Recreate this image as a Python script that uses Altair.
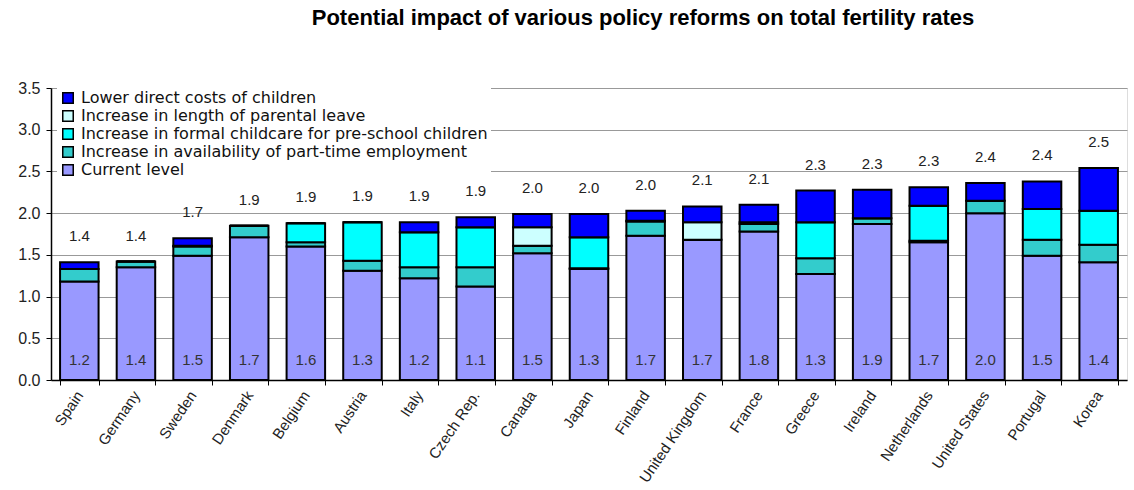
import altair as alt
import pandas as pd

countries = ["Spain", "Germany", "Sweden", "Denmark", "Belgium", "Austria", "Italy",
             "Czech Rep.", "Canada", "Japan", "Finland", "United Kingdom", "France",
             "Greece", "Ireland", "Netherlands", "United States", "Portugal", "Korea"]
current = [1.18, 1.35, 1.49, 1.71, 1.60, 1.31, 1.22, 1.12, 1.52, 1.33, 1.73, 1.68, 1.78,
           1.27, 1.87, 1.65, 2.00, 1.49, 1.41]
parttime = [0.15, 0.07, 0.11, 0.14, 0.05, 0.12, 0.13, 0.23, 0.09, 0.01, 0.17, 0.00, 0.09,
            0.19, 0.07, 0.02, 0.15, 0.19, 0.21]
childcare = [0.00, 0.00, 0.01, 0.00, 0.23, 0.46, 0.42, 0.48, 0.00, 0.37, 0.01, 0.00, 0.02,
             0.43, 0.00, 0.42, 0.00, 0.37, 0.41]
leave = [0.00, 0.00, 0.00, 0.00, 0.00, 0.00, 0.00, 0.00, 0.22, 0.00, 0.00, 0.21, 0.00,
         0.00, 0.00, 0.00, 0.00, 0.00, 0.00]
costs = [0.08, 0.00, 0.09, 0.00, 0.00, 0.00, 0.12, 0.12, 0.16, 0.28, 0.12, 0.19, 0.21,
         0.38, 0.34, 0.22, 0.21, 0.33, 0.51]
top_labels = ["1.4", "1.4", "1.7", "1.9", "1.9", "1.9", "1.9", "1.9", "2.0", "2.0", "2.0",
              "2.1", "2.1", "2.3", "2.3", "2.3", "2.4", "2.4", "2.5"]
base_labels = ["1.2", "1.4", "1.5", "1.7", "1.6", "1.3", "1.2", "1.1", "1.5", "1.3", "1.7",
               "1.7", "1.8", "1.3", "1.9", "1.7", "2.0", "1.5", "1.4"]

series_names = ["Lower direct costs of children",
                "Increase in length of parental leave",
                "Increase in formal childcare for pre-school children",
                "Increase in availability of part-time employment",
                "Current level"]
series_colors = ["#0000FF", "#CCFFFF", "#00FFFF", "#33CCCC", "#9999FF"]
stack_lists = [current, parttime, childcare, leave, costs]
stack_names = series_names[::-1]

rows = []
for si, (name, vals) in enumerate(zip(stack_names, stack_lists)):
    for c, v in zip(countries, vals):
        rows.append({"country": c, "series": name, "value": v, "order": si})
df = pd.DataFrame(rows)

totals = [sum(v) for v in zip(current, parttime, childcare, leave, costs)]
lab = pd.DataFrame({"country": countries, "total": totals,
                    "top": top_labels, "base": base_labels})

FONT = "Liberation Sans"
xenc = alt.X("country:N", sort=countries,
             scale=alt.Scale(paddingInner=0.32, paddingOuter=0.16),
             axis=alt.Axis(title=None, labelAngle=304, labelAlign="right",
                           labelBaseline="middle", labelFontSize=15, labelFont=FONT,
                           labelColor="#222", labelPadding=7, tickBand="extent",
                           tickSize=5, tickColor="black", domainColor="black",
                           domainWidth=1.5, grid=False))

bars = alt.Chart(df).mark_bar(stroke="black", strokeWidth=2).encode(
    x=xenc,
    y=alt.Y("value:Q", stack="zero",
            scale=alt.Scale(domain=[0, 3.5], nice=False),
            axis=alt.Axis(title=None, values=[0, 0.5, 1, 1.5, 2, 2.5, 3, 3.5],
                          format=".1f", labelFontSize=16, labelFont=FONT,
                          labelColor="#222", labelPadding=6,
                          tickSize=5, tickColor="black", domainColor="black",
                          domainWidth=1.5, gridColor="#999999", gridWidth=1)),
    color=alt.Color("series:N", scale=alt.Scale(domain=series_names, range=series_colors),
                    legend=alt.Legend(title=None, orient="none", legendX=6, legendY=-1,
                                      fillColor="white", padding=3,
                                      symbolType="square", symbolSize=110,
                                      symbolStrokeColor="black", symbolStrokeWidth=1.5,
                                      labelFontSize=16, labelFont="DejaVu Sans",
                                      labelColor="#111",
                                      rowPadding=0, labelOffset=5, labelLimit=600)),
    order=alt.Order("order:Q"),
)

top_text = alt.Chart(lab).mark_text(fontSize=15, font=FONT, color="#222",
                                    baseline="middle", dy=-26).encode(
    x=alt.X("country:N", sort=countries), y=alt.Y("total:Q"), text="top:N")

base_text = alt.Chart(lab).mark_text(fontSize=15, font=FONT, color="#333",
                                     baseline="middle", dy=-20).encode(
    x=alt.X("country:N", sort=countries), y=alt.datum(0), text="base:N")

chart = alt.layer(bars, top_text, base_text).properties(
    width=1076, height=292,
    title=alt.Title("Potential impact of various policy reforms on total fertility rates",
                    fontSize=22, font=FONT, fontWeight="bold", color="black",
                    anchor="middle", dx=54, offset=50),
    autosize=alt.AutoSizeParams(type="none"),
    padding={"left": 51, "top": 88, "right": 7, "bottom": 110},
).configure_view(stroke=None).configure(background="white")

chart.save("out.html", embed_options={"renderer": "svg", "actions": False})
